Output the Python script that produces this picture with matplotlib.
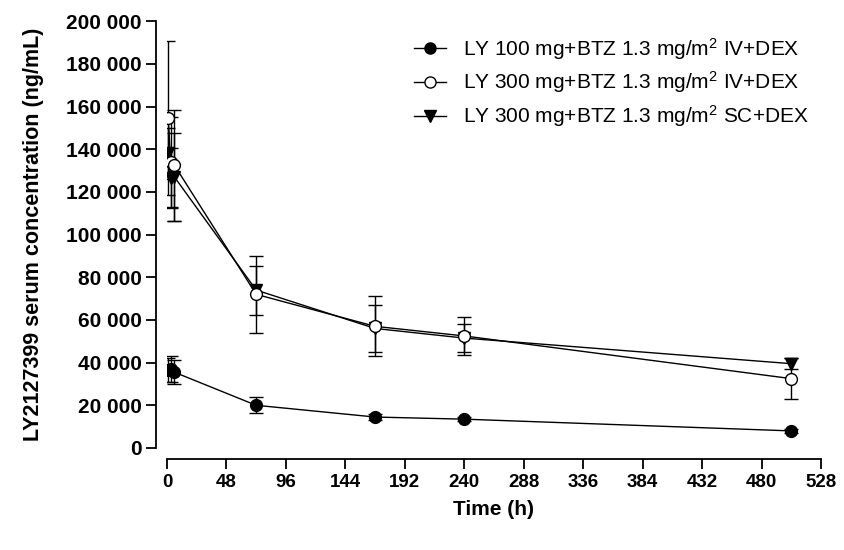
import matplotlib
matplotlib.use("Agg")
import matplotlib.pyplot as plt
from matplotlib.ticker import FuncFormatter, FixedLocator
from matplotlib.lines import Line2D

plt.rcParams['font.family'] = ['Liberation Sans', 'DejaVu Sans']
plt.rcParams['mathtext.fontset'] = 'custom'
plt.rcParams['mathtext.rm'] = 'Liberation Sans'
plt.rcParams['mathtext.it'] = 'Liberation Sans:italic'
plt.rcParams['mathtext.bf'] = 'Liberation Sans:bold'

# Data
time = [1, 3, 6, 72, 168, 240, 504]

ly100_iv_mean = [36500, 37000, 35500, 20000, 14500, 13500, 8000]
ly100_iv_sd = [5500, 6000, 5500, 3800, 1200, 1000, 900]

ly300_iv_mean = [154500, 134000, 132500, 72000, 57000, 52500, 32500]
ly300_iv_sd = [36000, 21000, 26000, 18000, 14000, 9000, 9500]

ly300_sc_mean = [138000, 126500, 127000, 74000, 56000, 51500, 39500]
ly300_sc_sd = [12000, 14000, 20500, 11500, 11000, 6500, 2500]

labels = [
    "LY 100 mg+BTZ 1.3 mg/m$^{2}$ IV+DEX",
    "LY 300 mg+BTZ 1.3 mg/m$^{2}$ IV+DEX",
    "LY 300 mg+BTZ 1.3 mg/m$^{2}$ SC+DEX",
]
x_ticks = [0, 48, 96, 144, 192, 240, 288, 336, 384, 432, 480, 528]
y_ticks = [0, 20000, 40000, 60000, 80000, 100000, 120000, 140000, 160000, 180000, 200000]

fig = plt.figure(figsize=(8.45, 5.5), dpi=100)
ax = fig.add_axes([0.1976, 0.1855, 0.774, 0.776])

common = dict(color='black', linewidth=1.0, elinewidth=1.0, capsize=5, capthick=1.0, markersize=8.5)
ax.errorbar(time, ly100_iv_mean, yerr=ly100_iv_sd, fmt='-o', markerfacecolor='black',
            markeredgecolor='black', zorder=3, **common)
ax.errorbar(time, ly300_iv_mean, yerr=ly300_iv_sd, fmt='-o', markerfacecolor='white',
            markeredgecolor='black', zorder=4, **common)
ax.errorbar(time, ly300_sc_mean, yerr=ly300_sc_sd, fmt='-v', markerfacecolor='black',
            markeredgecolor='black', zorder=3, **common)

ax.set_xlim(0, 528)
ax.set_ylim(0, 200000)
ax.xaxis.set_major_locator(FixedLocator(x_ticks))
ax.yaxis.set_major_locator(FixedLocator(y_ticks))
ax.yaxis.set_major_formatter(FuncFormatter(lambda v, p: f"{int(v):,}".replace(",", " ")))

for s in ['top', 'right']:
    ax.spines[s].set_visible(False)
ax.spines['left'].set_position(('outward', 8))
ax.spines['bottom'].set_position(('outward', 8))
ax.spines['left'].set_linewidth(1.3)
ax.spines['bottom'].set_linewidth(1.3)
ax.tick_params(axis='both', direction='out', length=7, width=1.3)
ax.tick_params(axis='x', labelsize=13.5)
ax.tick_params(axis='y', labelsize=15, pad=3)
for lab in ax.get_xticklabels() + ax.get_yticklabels():
    lab.set_fontweight('bold')

ax.set_xlabel("Time (h)", fontsize=15, fontweight='bold', labelpad=7)
ax.set_ylabel("LY2127399 serum concentration (ng/mL)", fontsize=15.5, fontweight='bold', labelpad=16)

handles = [
    Line2D([], [], color='black', linewidth=1.0, marker='o', markersize=8,
           markerfacecolor='black', markeredgecolor='black'),
    Line2D([], [], color='black', linewidth=1.0, marker='o', markersize=8,
           markerfacecolor='white', markeredgecolor='black'),
    Line2D([], [], color='black', linewidth=1.0, marker='v', markersize=8,
           markerfacecolor='black', markeredgecolor='black'),
]
leg = ax.legend(handles, labels, loc='upper left', bbox_to_anchor=(0.355, 1.0), frameon=False,
                fontsize=15, handlelength=1.55, labelspacing=0.38, handletextpad=0.8,
                borderaxespad=0.3)

fig.savefig("out.png", dpi=100)
